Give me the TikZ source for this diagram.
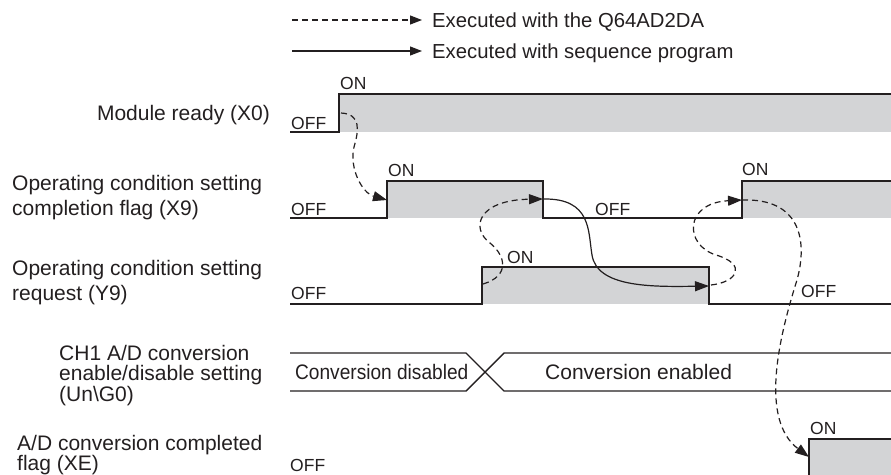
\documentclass[tikz,border=0pt]{standalone}
\usepackage{fontspec}
\setmainfont{Liberation Sans}
\usetikzlibrary{arrows.meta}
\definecolor{ink}{HTML}{231F20}
\definecolor{hi}{HTML}{D3D4D6}
\begin{document}
\begin{tikzpicture}[x=1pt,y=-1pt,
 sig/.style={line width=1.4pt, draw=ink, line join=miter},
 hifill/.style={fill=hi, draw=none},
 lbl/.style={font=\fontsize{21}{25}\selectfont, text=ink, inner sep=0pt},
 leg/.style={font=\fontsize{20.3}{25}\selectfont, text=ink, inner sep=0pt, anchor=base west},
 st/.style={font=\fontsize{17.5}{20}\selectfont, text=ink, inner sep=0pt, anchor=base west},
 mod/.style={draw=ink, line width=1.2pt, dash pattern=on 6pt off 4pt, -{Triangle[length=14pt,width=10pt]}},
 prg/.style={draw=ink, line width=1.2pt, -{Triangle[length=14pt,width=10pt]}},
 legmod/.style={draw=ink, line width=1.2pt, dash pattern=on 6pt off 4pt, -{Triangle[length=12pt,width=9pt]}},
 legprg/.style={draw=ink, line width=1.2pt, -{Triangle[length=12pt,width=9pt]}},
]
\useasboundingbox (0,0) rectangle (891,474);
\clip (0,0) rectangle (891,474);

% legend
\coordinate (lg1a) at (292,20);
\coordinate (lg1b) at (422,20);
\coordinate (lg2a) at (292,51);
\coordinate (lg2b) at (422,51);
\draw[legmod] (lg1a) -- (lg1b);
\draw[legprg] (lg2a) -- (lg2b);
\node[leg] (leg1) at (432,27.3) {Executed with the Q64AD2DA};
\node[leg] (leg2) at (432,58.3) {Executed with sequence program};

% fills
\fill[hifill] (339,94) rectangle (891,132);
\fill[hifill] (387,181) rectangle (543,218);
\fill[hifill] (742,181) rectangle (891,218);
\fill[hifill] (482,267) rectangle (709,304);
\fill[hifill] (809,439) rectangle (891,480);

% waveforms
\draw[sig] (290,132) -- (339,132) -- (339,94) -- (891,94);
\draw[sig] (290,218) -- (387,218) -- (387,181) -- (543,181) -- (543,218) -- (742,218) -- (742,181) -- (891,181);
\draw[sig] (290,304) -- (482,304) -- (482,267) -- (709,267) -- (709,304) -- (891,304);
\draw[sig] (290,353) -- (466,353) -- (504,391) -- (891,391);
\draw[sig] (290,391) -- (466,391) -- (504,353) -- (891,353);
\draw[sig] (290,480) -- (809,480) -- (809,439) -- (891,439);

% signal names
\node[lbl, anchor=base east] (nx0) at (270,120.6) {Module ready (X0)};
\node[lbl, anchor=base west] (nx9a) at (12,190.6) {Operating condition setting};
\node[lbl, anchor=base west] (nx9b) at (12,215.6) {completion flag (X9)};
\node[lbl, anchor=base west] (ny9a) at (12,275.3) {Operating condition setting};
\node[lbl, anchor=base west] (ny9b) at (12,300.3) {request (Y9)};
\node[lbl, anchor=base west] (nchA) at (59,360.3) {CH1 A/D conversion};
\node[lbl, anchor=base west] (nchB) at (59,380.6) {enable/disable setting};
\node[lbl, anchor=base west] (nchC) at (59,401.3) {(Un\textbackslash G0)};
\node[lbl, anchor=base west] (nxeA) at (17,450.3) {A/D conversion completed};
\node[lbl, anchor=base west] (nxeB) at (17,470.6) {flag (XE)};

% ON / OFF
\node[st] (x0off) at (291,129.5) {OFF};
\node[st] (x0on) at (340,89.5) {ON};
\node[st] (x9off) at (291,215) {OFF};
\node[st] (x9on) at (388,176) {ON};
\node[st] (x9off2) at (595,215) {OFF};
\node[st] (x9on2) at (742,175) {ON};
\node[st] (y9off) at (291,299) {OFF};
\node[st] (y9on) at (507,263) {ON};
\node[st] (y9off2) at (801,297.5) {OFF};
\node[st] (xeon) at (810,434) {ON};
\node[st] (xeoff) at (290,471) {OFF};

% conversion texts
\node[lbl, anchor=base west, xscale=0.91] (cdis) at (295,379) {Conversion disabled};
\node[lbl, anchor=base west] (cen) at (545,379) {Conversion enabled};

% edge coordinates
\coordinate (x0rise) at (341,113);
\coordinate (x9rise) at (387,200);
\coordinate (y9rise) at (483,284);
\coordinate (x9fall) at (543,199);
\coordinate (y9fall) at (709,286);
\coordinate (y9fallB) at (711,285);
\coordinate (x9rise2) at (742,200);
\coordinate (xerise) at (809,457);

% causal arrows
\draw[mod] (x0rise) .. controls (361,114) and (359,130) .. (354,147)
  .. controls (349,168) and (362,193) .. (x9rise);
\draw[mod] (y9rise) .. controls (510,276) and (506,256) .. (490,243)
  .. controls (470,228) and (478,200) .. (x9fall);
\draw[prg] (x9fall) .. controls (592,198) and (588,232) .. (592,255)
  .. controls (597,287) and (650,287) .. (y9fall);
\draw[mod] (y9fallB) .. controls (738,282) and (747,264) .. (716,255)
  .. controls (684,245) and (684,203) .. (x9rise2);
\draw[mod] (x9rise2) .. controls (800,198) and (808,240) .. (797,280)
  .. controls (778,340) and (760,420) .. (xerise);
\end{tikzpicture}
\end{document}
